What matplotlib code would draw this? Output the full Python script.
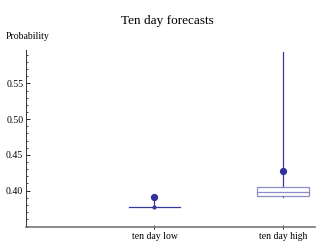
import matplotlib.pyplot as plt
import numpy as np
from matplotlib.ticker import MultipleLocator

# box-whisker summary
categories = ["ten day low", "ten day high"]
whisker_low = [0.377, 0.391]
box_low = [0.377, 0.393]
medians = [0.377, 0.398]
box_high = [0.377, 0.405]
whisker_high = [0.391, 0.594]
means = [0.391, 0.427]

plt.rcParams['font.family'] = ['Liberation Serif', 'DejaVu Serif']

fig = plt.figure(figsize=(3.34, 2.52), dpi=100)
ax = fig.add_axes([0.078, 0.099, 0.865, 0.703])

line_col = "#3a3a9a"
box_col = "#8c8cc8"
pos = np.arange(1, len(categories) + 1)
w = 0.2

for i, x in enumerate(pos):
    ax.plot([x, x], [whisker_low[i], box_low[i]], color=line_col, lw=0.9, zorder=2)
    ax.plot([x, x], [box_high[i], whisker_high[i]], color=line_col, lw=0.9, zorder=2)
    if box_high[i] - box_low[i] > 0.001:
        ax.add_patch(plt.Rectangle((x - w, box_low[i]), 2 * w, box_high[i] - box_low[i],
                                   fill=False, ec=box_col, lw=0.9, zorder=3))
        ax.plot([x - w, x + w], [medians[i]] * 2, color=box_col, lw=0.9, zorder=3)
    else:
        ax.plot([x - w, x + w], [medians[i]] * 2, color=line_col, lw=0.9, zorder=3)
        ax.plot([x], [whisker_low[i]], 'o', ms=2, color=line_col, zorder=4)
    ax.plot([x], [means[i]], 'o', ms=4.2, color="#3030a0", zorder=5)

ax.set_xlim(0, 2.25)
ax.set_ylim(0.349, 0.597)
ax.set_xticks(pos)
ax.set_xticklabels(categories, fontsize=7)
ax.yaxis.set_major_locator(MultipleLocator(0.05))
ax.yaxis.set_minor_locator(MultipleLocator(0.01))
ax.set_yticks([0.40, 0.45, 0.50, 0.55])
ax.set_yticklabels(["0.40", "0.45", "0.50", "0.55"], fontsize=7)
ax.tick_params(axis='y', which='major', direction='in', length=3, width=0.6, pad=2)
ax.tick_params(axis='y', which='minor', direction='in', length=1.5, width=0.5)
ax.tick_params(axis='x', direction='inout', length=3, width=0.6, pad=2)

for s in ["top", "right"]:
    ax.spines[s].set_visible(False)
ax.spines["left"].set_color("#333333")
ax.spines["left"].set_linewidth(0.7)
ax.spines["bottom"].set_color("#777777")
ax.spines["bottom"].set_linewidth(1.2)

fig.text(0.5, 0.905, "Ten day forecasts", ha='center', fontsize=9.5)
fig.text(0.018, 0.845, "Probability", ha='left', fontsize=7)

fig.savefig("out.png", dpi=100)
